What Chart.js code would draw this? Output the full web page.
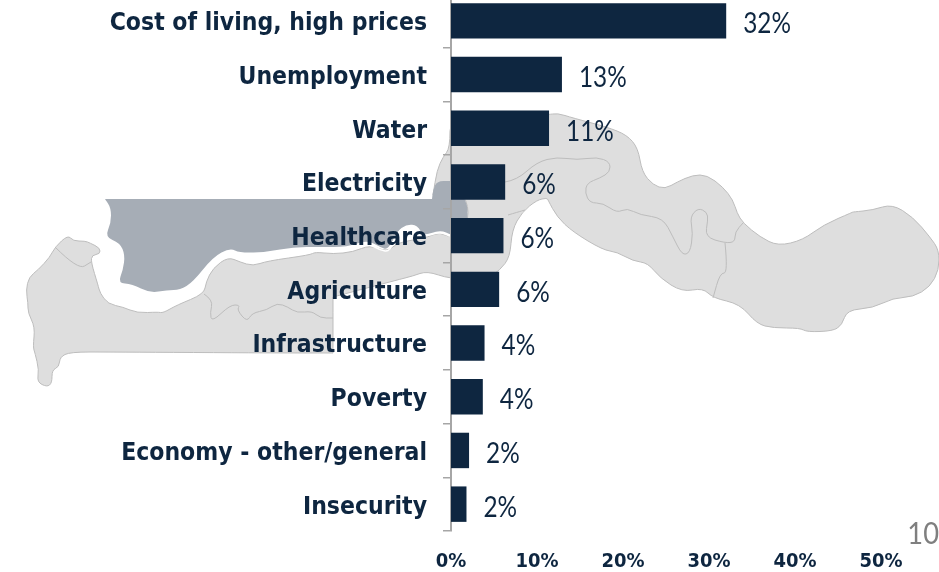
<!DOCTYPE html>
<html>
<head>
<meta charset="utf-8">
<style>
html,body{margin:0;padding:0;background:#fff;width:939px;height:572px;overflow:hidden}
#wrap{position:absolute;left:0;top:-20px;width:939px;height:592px}
</style>
<script src="https://cdn.jsdelivr.net/npm/chart.js@4"></script>
</head>
<body>
<div id="wrap"><canvas id="c" width="939" height="592"></canvas></div>
<script>
const categories = ["Cost of living, high prices","Unemployment","Water","Electricity","Healthcare","Agriculture","Infrastructure","Poverty","Economy - other/general","Insecurity"];
const values = [32,12.9,11.4,6.3,6.1,5.6,3.9,3.7,2.1,1.8];
const valueLabels = ["32%","13%","11%","6%","6%","6%","4%","4%","2%","2%"];
const xTicks = [0,10,20,30,40,50];
const pageNumber = "10";

const NAVY="#0e2640", AXIS="#a6a6a6";

/* decorative background map, traced in pixels (repeat a point for a sharp corner) */
const mapLight = [[68,235],[73,241],[85,241],[90,243],[100,248],[100,254],[92,255],[91,262],[98,285],[100,293],[108,304],[123,307],[137,313],[158,312],[163,313],[177,305],[204,294],[206,282],[213,268],[228,257],[240,262],[253,266],[267,261],[310,255],[315,252],[333,254],[353,252],[370,245],[387,252],[397,243],[413,240],[428,237],[440,232],[450,238],[468,225],[468,200],[450,182],[433,195],[433,195],[437,170],[443,157],[450,148],[450,114],[548,115],[557,113],[573,118],[607,127],[627,135],[638,148],[642,172],[653,185],[665,189],[677,182],[693,175],[707,175],[723,187],[733,200],[737,213],[743,223],[760,237],[778,246],[803,240],[823,225],[853,212],[853,212],[873,210],[892,204],[913,217],[930,237],[939,250],[939,270],[930,287],[913,297],[893,298],[873,308],[847,310],[842,325],[833,331],[807,332],[800,328],[773,328],[757,324],[740,304],[713,298],[703,288],[682,292],[660,278],[648,263],[633,261],[617,252],[603,250],[573,232],[557,217],[548,200],[547,198],[537,200],[522,212],[512,230],[510,257],[500,270],[487,279],[450,279],[427,271],[413,276],[397,280],[333,297],[333,297],[333,353],[333,353],[277,353],[110,352],[70,352],[60,357],[59,367],[52,370],[52,383],[47,387],[37,382],[39,370],[35,353],[33,347],[35,327],[28,313],[28,303],[26,290],[29,277],[38,270],[50,257],[55,247]];
const mapDark = [[105,199],[105,199],[111,208],[111,223],[105,237],[120,243],[125,255],[123,270],[118,283],[132,284],[150,293],[167,290],[180,290],[193,282],[213,257],[230,248],[240,253],[267,252],[293,247],[320,247],[347,247],[367,240],[380,247],[388,250],[397,232],[407,225],[417,226],[423,236],[440,230],[452,235],[462,240],[468,219],[467,200],[450,181],[450,181],[437,181],[433,190],[432,199],[432,199]];
const mapLines = [
 [[55,247],[78,270],[91,262]],
 [[204,294],[213,300],[210,313],[212,322],[230,305],[240,305],[237,310],[247,322],[252,313],[267,310],[277,303],[288,307],[297,313],[312,311],[320,318],[333,318]],
 [[505,182],[517,180],[537,162],[557,157],[577,160],[597,157],[610,162],[610,172],[600,178],[587,183],[585,193],[590,203],[603,203],[617,213],[627,208],[640,215],[663,218],[673,237],[682,255],[690,253],[693,233],[690,217],[698,208],[707,212],[708,220],[705,237],[725,243],[735,242],[735,232],[743,223]],
 [[725,243],[728,273],[720,273],[713,298]],
 [[508,215],[518,212],[525,210]]
];
const mapChannel = [[320,250],[347,250],[367,243],[380,250],[390,252],[397,232],[407,225],[417,226],[423,237],[440,232],[450,236]];

function trace(ctx, pts, closed){
  ctx.beginPath();
  const n = pts.length, mid=(a,b)=>[(a[0]+b[0])/2,(a[1]+b[1])/2];
  if(closed){
    const s=mid(pts[n-1],pts[0]); ctx.moveTo(s[0],s[1]);
    for(let i=0;i<n;i++){const m=mid(pts[i],pts[(i+1)%n]); ctx.quadraticCurveTo(pts[i][0],pts[i][1],m[0],m[1]);}
    ctx.closePath();
  } else {
    ctx.moveTo(pts[0][0],pts[0][1]);
    for(let i=1;i<n-1;i++){const m=mid(pts[i],pts[i+1]); ctx.quadraticCurveTo(pts[i][0],pts[i][1],m[0],m[1]);}
    ctx.lineTo(pts[n-1][0],pts[n-1][1]);
  }
}
const backdrop = {
  id:"backdrop",
  beforeDraw(chart){
    const ctx=chart.ctx; ctx.save();
    ctx.translate(0,20);
    ctx.lineJoin="round";
    trace(ctx,mapLight,true); ctx.fillStyle="#dedede"; ctx.fill(); ctx.strokeStyle="#bdbdbd"; ctx.lineWidth=1; ctx.stroke();
    ctx.strokeStyle="#bdbdbd"; ctx.lineWidth=1;
    mapLines.forEach(l=>{trace(ctx,l,false);ctx.stroke();});
    trace(ctx,mapDark,true); ctx.fillStyle="#a6adb6"; ctx.fill();
    trace(ctx,mapChannel,false); ctx.strokeStyle="#ffffff"; ctx.lineWidth=1.5; ctx.stroke();
    ctx.restore();
  }
};
function stretched(ctx,text,x,y,sx){ctx.save();ctx.translate(x,y);ctx.scale(sx,1);ctx.fillText(text,0,0);ctx.restore();}
const barText = {
  id:"barText",
  afterDatasetsDraw(chart){
    const ctx=chart.ctx, meta=chart.getDatasetMeta(0);
    ctx.save();
    ctx.fillStyle=NAVY; ctx.font="29px Lato"; ctx.textAlign="left"; ctx.textBaseline="middle";
    meta.data.forEach((bar,i)=>stretched(ctx,valueLabels[i],bar.x+17,bar.y+3,0.84));
    ctx.fillStyle="#7f7f7f"; ctx.font="31px Lato"; ctx.textAlign="right"; ctx.textBaseline="alphabetic";
    stretched(ctx,pageNumber,939,564,0.88);
    ctx.restore();
  }
};
const noPad = s => {s.paddingTop=0;s.paddingBottom=0;s.paddingLeft=0;s.paddingRight=0;};
const nudgeLabels = (s,dy) => {
  if(s._nudged) return;
  s._nudged = true;
  const compute = s._computeLabelItems.bind(s);
  s._computeLabelItems = area => {
    const items = compute(area);
    items.forEach(it => { it.options.translation = [it.options.translation[0], it.options.translation[1]+dy]; });
    return items;
  };
};

new Chart(document.getElementById("c"),{
  type:"bar",
  data:{labels:categories,datasets:[{data:values,backgroundColor:NAVY,barPercentage:0.66,categoryPercentage:1}]},
  plugins:[backdrop,barText],
  options:{
    indexAxis:"y",responsive:false,animation:false,
    layout:{padding:{top:14,right:58,left:0,bottom:0}},
    plugins:{legend:{display:false},tooltip:{enabled:false}},
    scales:{
      x:{min:0,max:50,afterBuildTicks(s){s.ticks=xTicks.map(v=>({value:v}));},
         afterFit(s){s.height=41;noPad(s);},
         border:{display:false},grid:{display:false,drawTicks:false},
         ticks:{color:NAVY,font:{family:"'DejaVu Sans Condensed'",weight:"bold",size:20},padding:19,maxRotation:0,callback:v=>v+"%"}},
      y:{afterFit(s){s.width=451;noPad(s);nudgeLabels(s,3);},
         border:{display:true,color:AXIS,width:2},
         grid:{display:true,drawOnChartArea:false,drawTicks:true,tickLength:8,color:AXIS,lineWidth:1.5},
         ticks:{color:NAVY,font:{family:"'DejaVu Sans Condensed'",weight:"bold",size:24.5},padding:16,autoSkip:false}}
    }
  }
});
</script>
</body>
</html>
